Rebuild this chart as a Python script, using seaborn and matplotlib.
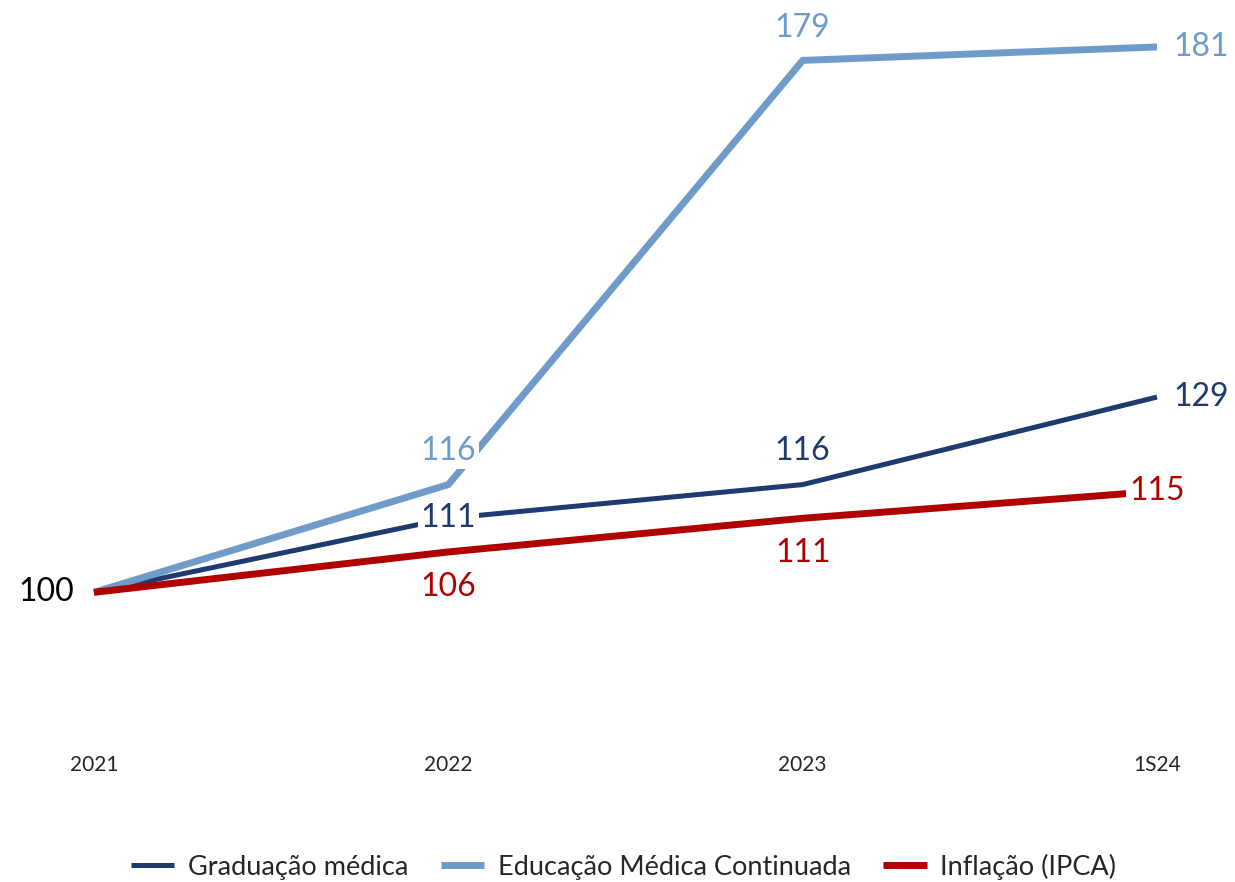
import pandas as pd
import matplotlib.pyplot as plt
import seaborn as sns

periodos = ["2021", "2022", "2023", "1S24"]
graduacao = [100, 111, 116, 129]
educacao = [100, 116, 179, 181]
inflacao = [100, 106, 111, 115]

series = ["Graduação médica", "Educação Médica Continuada", "Inflação (IPCA)"]
cores = ["#1F3A6E", "#6F9BC9", "#B00000"]
larguras = [3.6, 5.0, 5.0]

sns.set_style("white")
plt.rcParams['font.family'] = ['Lato', 'DejaVu Sans']


def main():
    df = pd.DataFrame({
        "periodo": periodos * 3,
        "valor": graduacao + educacao + inflacao,
        "serie": [series[0]] * 4 + [series[1]] * 4 + [series[2]] * 4,
    })

    fig = plt.figure(figsize=(12.35, 8.82), dpi=100)
    ax = fig.add_axes([94 / 1235, 1 - 727 / 882, (1157 - 94) / 1235, 707 / 882])

    # ordem de desenho: graduação por baixo, inflação por cima
    for nome, cor, lw in zip(series, cores, larguras):
        sub = df[df["serie"] == nome]
        sns.lineplot(data=sub, x="periodo", y="valor", ax=ax, color=cor,
                     linewidth=lw, label=nome, clip_on=False, sort=False,
                     solid_capstyle="butt")

    ax.set_xlim(0, 3)
    ax.set_ylim(80, 185)
    ax.set_xlabel("")
    ax.set_ylabel("")
    ax.set_yticks([])
    ax.tick_params(axis="x", length=0, pad=20, labelsize=15)
    sns.despine(ax=ax, left=True, bottom=True)

    fs = 23
    caixa = dict(facecolor="white", edgecolor="none", pad=2)

    def rotulo(i, v, cor, dx=0, dy=0, ha="center", va="center", bbox=None):
        ax.annotate(str(v), (i, v), xytext=(dx, dy), textcoords="offset points",
                    ha=ha, va=va, color=cor, fontsize=fs, bbox=bbox,
                    annotation_clip=False)

    # Graduação médica
    rotulo(1, graduacao[1], cores[0], bbox=caixa)
    rotulo(2, graduacao[2], cores[0], dy=24)
    rotulo(3, graduacao[3], cores[0], dx=12, ha="left")
    # Educação Médica Continuada
    rotulo(1, educacao[1], cores[1], dy=24, bbox=caixa)
    rotulo(2, educacao[2], cores[1], dy=23)
    rotulo(3, educacao[3], cores[1], dx=12, ha="left")
    # Inflação
    rotulo(1, inflacao[1], cores[2], dy=-25)
    rotulo(2, inflacao[2], cores[2], dy=-25)
    rotulo(3, inflacao[3], cores[2], bbox=caixa)
    # base
    rotulo(0, 100, "black", dx=-14, ha="right")

    ax.get_legend().remove()
    h, l = ax.get_legend_handles_labels()
    fig.legend(h, l, loc="lower center", ncol=3, frameon=False, fontsize=19.5,
               bbox_to_anchor=(0.505, -0.025), handlelength=1.6, columnspacing=1.2,
               handletextpad=0.5)

    fig.savefig("out.png", dpi=100)
    plt.close(fig)


if __name__ == "__main__":
    main()
